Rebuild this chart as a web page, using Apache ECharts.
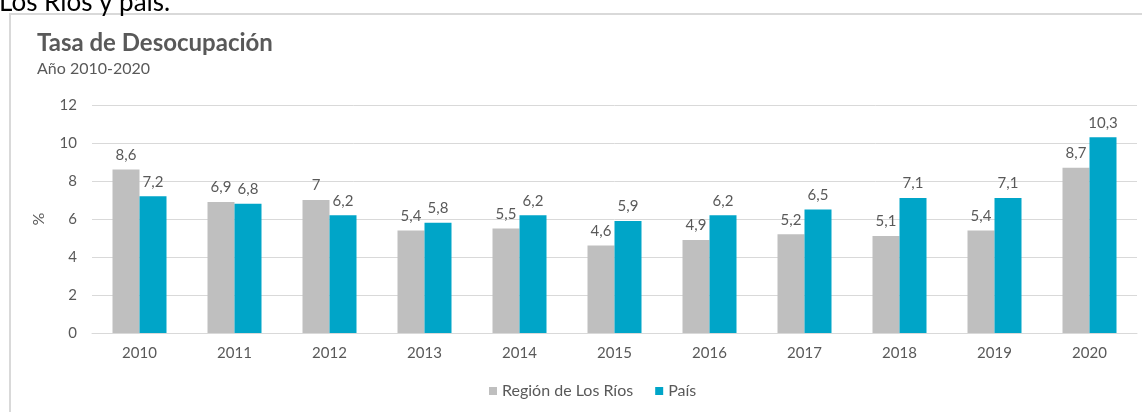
<!DOCTYPE html>
<html>
<head>
<meta charset="utf-8">
<script src="https://cdn.jsdelivr.net/npm/echarts@6/dist/echarts.min.js"></script>
<style>
html,body{margin:0;padding:0;background:#fff;}
#chart{width:1142px;height:412px;}
</style>
</head>
<body>
<div id="chart"></div>
<script>
const categories = ['2010','2011','2012','2013','2014','2015','2016','2017','2018','2019','2020'];
const regionLosRios = [8.6, 6.9, 7, 5.4, 5.5, 4.6, 4.9, 5.2, 5.1, 5.4, 8.7];
const pais = [7.2, 6.8, 6.2, 5.8, 6.2, 5.9, 6.2, 6.5, 7.1, 7.1, 10.3];
const yTicks = [0, 2, 4, 6, 8, 10, 12];

const FONT = 'Lato';
const TXT = '#595959';
const fmt = p => String(p.value).replace('.', ',');

const chart = echarts.init(document.getElementById('chart'));
chart.setOption({
  backgroundColor: '#fff',
  textStyle: { fontFamily: FONT },
  animation: false,
  graphic: [
    { type: 'rect', shape: { x: 10, y: 14, width: 1300, height: 600 },
      style: { fill: 'none', stroke: '#D9D9D9', lineWidth: 2 }, silent: true },
    { type: 'text', x: -1, y: 16,
      style: { text: 'Los Ríos y país.', fill: '#000', font: '26px Lato', textVerticalAlign: 'bottom' } },
    { type: 'text', x: 37, y: 31,
      style: { text: 'Tasa de Desocupación', fill: TXT, font: 'bold 24px Lato' } },
    { type: 'text', x: 37, y: 61,
      style: { text: 'Año 2010-2020', fill: TXT, font: '16px Lato' } }
  ],
  legend: {
    bottom: 8,
    left: 484,
    itemWidth: 8,
    itemHeight: 8,
    itemGap: 22,
    icon: 'rect',
    textStyle: { color: TXT, fontSize: 16, fontFamily: FONT },
    data: ['Región de Los Ríos', 'País']
  },
  grid: { left: 92, right: 5, top: 105, bottom: 79 },
  xAxis: {
    type: 'category',
    data: categories,
    axisLine: { lineStyle: { color: '#D9D9D9', width: 1 } },
    axisTick: { show: false },
    axisLabel: { color: TXT, fontSize: 15, margin: 13 }
  },
  yAxis: {
    type: 'value',
    min: yTicks[0],
    max: yTicks[yTicks.length - 1],
    interval: 2,
    name: '%',
    nameLocation: 'middle',
    nameGap: 45,
    nameRotate: 90,
    nameTextStyle: { color: TXT, fontSize: 16 },
    axisLine: { show: false },
    axisTick: { show: false },
    splitLine: { lineStyle: { color: '#D9D9D9', width: 1 } },
    axisLabel: { color: TXT, fontSize: 15, margin: 15 }
  },
  series: [
    {
      name: 'Región de Los Ríos',
      type: 'bar',
      data: regionLosRios,
      itemStyle: { color: '#BFBFBF' },
      barWidth: 27,
      barGap: '0%',
      label: { show: true, position: 'top', distance: 7, color: TXT, fontSize: 15, formatter: fmt }
    },
    {
      name: 'País',
      type: 'bar',
      data: pais,
      itemStyle: { color: '#00A5C8' },
      barWidth: 27,
      barGap: '0%',
      label: { show: true, position: 'top', distance: 7, color: TXT, fontSize: 15, formatter: fmt }
    }
  ]
});
</script>
</body>
</html>
